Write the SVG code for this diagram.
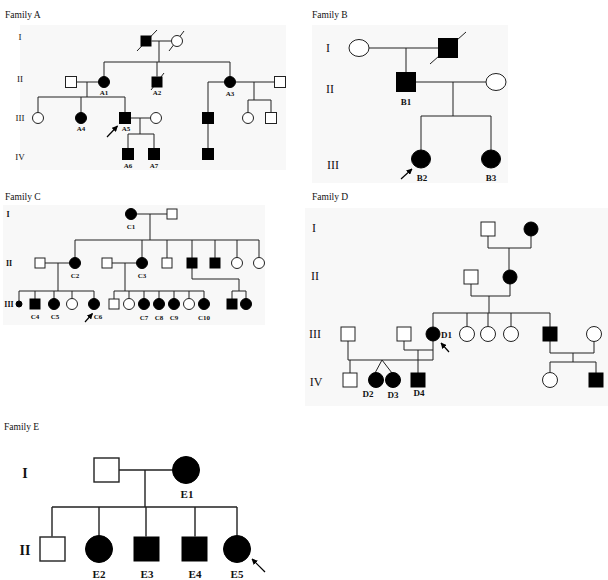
<svg xmlns="http://www.w3.org/2000/svg" width="608" height="580" viewBox="0 0 608 580">
<defs>
<style>
.l{stroke:#222;stroke-width:1;fill:none}
.le{stroke:#222;stroke-width:1.4;fill:none}
.o{fill:#fff;stroke:#222;stroke-width:1}
.oe{fill:#fff;stroke:#222;stroke-width:1.4}
.f{fill:#000;stroke:#000;stroke-width:1}
.fam{font-family:"Liberation Serif",serif;font-size:9.5px;fill:#111}
.g{font-family:"Liberation Serif",serif;fill:#111;text-anchor:middle}
.lb{font-family:"Liberation Serif",serif;font-weight:bold;fill:#111;text-anchor:middle}
.ar{stroke:#000;stroke-width:1.2;fill:none}
</style>
<marker id="ah" viewBox="0 0 10 10" refX="9" refY="5" markerWidth="5" markerHeight="5" orient="auto">
<path d="M0,0 L10,5 L0,10 z" fill="#000"/>
</marker>
</defs>
<rect width="608" height="580" fill="#fff"/>
<rect x="20" y="25" width="266" height="145" fill="#f8f8f8"/>
<rect x="312" y="25" width="196" height="158" fill="#f8f8f8"/>
<rect x="3" y="205" width="262" height="120" fill="#f8f8f8"/>
<rect x="305" y="208" width="303" height="198" fill="#f8f8f8"/>

<!-- Titles and generation labels -->
<g id="titles">
<text class="fam" x="5" y="18">Family A</text>
<text class="fam" x="312" y="18">Family B</text>
<text class="fam" x="5" y="200">Family C</text>
<text class="fam" x="312" y="200">Family D</text>
<text class="fam" x="4" y="430">Family E</text>
<g style="font-size:9px">
<text class="g" x="20" y="40">I</text>
<text class="g" x="20" y="82">II</text>
<text class="g" x="20" y="121">III</text>
<text class="g" x="20" y="160">IV</text>
</g>
<g style="font-size:12px">
<text class="g" x="328" y="52">I</text>
<text class="g" x="330" y="93">II</text>
<text class="g" x="333" y="169">III</text>
</g>
<g style="font-size:8px;font-weight:bold">
<text class="g" x="8" y="217">I</text>
<text class="g" x="9" y="266">II</text>
<text class="g" x="9" y="307">III</text>
</g>
<g style="font-size:12px">
<text class="g" x="314" y="232">I</text>
<text class="g" x="315" y="280">II</text>
<text class="g" x="315" y="338">III</text>
<text class="g" x="316" y="386">IV</text>
</g>
<g style="font-size:14px;font-weight:bold">
<text class="g" x="25" y="478">I</text>
<text class="g" x="25" y="555">II</text>
</g>
</g>

<!-- Connectors -->
<g id="connectors">
<!-- Family A -->
<path class="l" d="M151.5,41H171 M159,41V62 M104,62H230 M104,62V76.5 M157,62V76.5 M230,62V76.5"/>
<path class="l" d="M76.5,82H98.5 M87,82V97 M38,97H125 M38,97V112.5 M81,97V112.5 M125,97V112.5"/>
<path class="l" d="M235.5,82H274.5 M254,82V100 M248,100H271 M248,100V112.5 M271,100V112.5"/>
<path class="l" d="M224.5,82H208V112.5 M208,123.5V148.5"/>
<path class="l" d="M130.5,118H150.5 M140,118V134 M128,134H154 M128,134V148.5 M154,134V148.5"/>
<path class="l" d="M137,51L157,30 M169,51L184,31 M151,90L164,73"/>
<!-- Family B -->
<path class="l" d="M369,48H438.5 M406,48V72.5 M415.5,82H486 M453,82V116 M421,116H491 M421,116V150 M491,116V150"/>
<path class="l" d="M430,64L466,32"/>
<!-- Family C -->
<path class="l" d="M136.5,214H167 M150,214V240 M75,240H259 M75,240V257.5 M142,240V257.5 M167,240V258 M192,240V258 M215,240V258 M237,240V257.5 M259,240V257.5"/>
<path class="l" d="M45,263H69.5 M58,263V291 M19,291H94 M19,291V301 M35,291V299 M54,291V298.5 M72,291V298.5 M94,291V298.5"/>
<path class="l" d="M112,263H136.5 M125,263V291 M114,291H204 M114,291V299 M129,291V298.5 M144,291V298.5 M159,291V298.5 M174,291V298.5 M189,291V298.5 M204,291V298.5"/>
<path class="l" d="M192,268V279H239V291 M232,291H246 M232,291V299 M246,291V298.5"/>
<!-- Family D -->
<path class="l" d="M488,236V248H531V236 M509,248V270"/>
<path class="l" d="M471,284V296H510V284 M489,296V313"/>
<path class="l" d="M433,313H550 M433,313V327 M467,313V326.5 M488,313V326.5 M511,313V326.5 M550,313V327"/>
<path class="l" d="M550,341V353H594V341.5 M573,353V362 M550,362H596 M550,362V372.5 M596,362V373"/>
<path class="l" d="M348,341V360H433V341 M404,341V350H433 M418,350V373 M350,360V373 M375,373L382,360L392,373"/>
<!-- Family E -->
<path class="le" d="M118.5,470H172.5 M145,470V507 M52,507H237 M52,507V536.5 M99,507V535.5 M146,507V536.5 M195,507V536.5 M237,507V535.5"/>
<!-- Proband arrows -->
<path class="ar" d="M107,137L117.5,126" marker-end="url(#ah)"/>
<path class="ar" d="M401,179L412,169" marker-end="url(#ah)"/>
<path class="ar" d="M85,322L92.5,313.5" marker-end="url(#ah)"/>
<path class="ar" d="M449,352L441,343" marker-end="url(#ah)"/>
<path class="ar" d="M265,572L252,559" marker-end="url(#ah)"/>
</g>

<!-- Family A nodes -->
<g id="A-I-1"><rect class="f" x="141" y="36" width="10" height="10"/></g>
<g id="A-I-2"><circle class="o" cx="177" cy="41" r="5.5"/></g>
<g id="A-II-h1"><rect class="o" x="65.5" y="76.5" width="11" height="11"/></g>
<g id="A1"><circle class="f" cx="104" cy="82" r="5.5"/><text class="lb" x="104" y="95" style="font-size:7px">A1</text></g>
<g id="A2"><rect class="f" x="152" y="77" width="10" height="10"/><text class="lb" x="157" y="95" style="font-size:7px">A2</text></g>
<g id="A3"><circle class="f" cx="230" cy="82" r="5.5"/><text class="lb" x="230" y="96" style="font-size:7px">A3</text></g>
<g id="A-II-h3"><rect class="o" x="274.5" y="76.5" width="11" height="11"/></g>
<g id="A-III-1"><circle class="o" cx="38" cy="118" r="5.5"/></g>
<g id="A4"><circle class="f" cx="81" cy="118" r="5.5"/><text class="lb" x="81" y="131" style="font-size:7px">A4</text></g>
<g id="A5"><rect class="f" x="119.5" y="112.5" width="11" height="11"/><text class="lb" x="126" y="131" style="font-size:7px">A5</text></g>
<g id="A5-w"><circle class="o" cx="156" cy="118" r="5.5"/></g>
<g id="A-III-5"><rect class="f" x="202.5" y="112.5" width="11" height="11"/></g>
<g id="A-III-6"><circle class="o" cx="248" cy="118" r="5.5"/></g>
<g id="A-III-7"><rect class="o" x="265.5" y="112.5" width="11" height="11"/></g>
<g id="A6"><rect class="f" x="122.5" y="148.5" width="11" height="11"/><text class="lb" x="128" y="168" style="font-size:7px">A6</text></g>
<g id="A7"><rect class="f" x="148.5" y="148.5" width="11" height="11"/><text class="lb" x="154" y="168" style="font-size:7px">A7</text></g>
<g id="A-IV-3"><rect class="f" x="202.5" y="148.5" width="11" height="11"/></g>

<!-- Family B nodes -->
<g id="B-I-1"><ellipse class="o" cx="359" cy="48" rx="10" ry="8.5"/></g>
<g id="B-I-2"><rect class="f" x="438.5" y="38.5" width="19" height="19"/></g>
<g id="B1"><rect class="f" x="396.5" y="72.5" width="19" height="19"/><text class="lb" x="406" y="105" style="font-size:9px">B1</text></g>
<g id="B1-w"><ellipse class="o" cx="496" cy="82" rx="10" ry="8.5"/></g>
<g id="B2"><ellipse class="f" cx="421" cy="159" rx="9.5" ry="9"/><text class="lb" x="422" y="181" style="font-size:9px">B2</text></g>
<g id="B3"><ellipse class="f" cx="491" cy="159" rx="9.5" ry="9"/><text class="lb" x="491" y="181" style="font-size:9px">B3</text></g>

<!-- Family C nodes -->
<g id="C1"><circle class="f" cx="131" cy="214" r="5.5"/><text class="lb" x="131" y="229" style="font-size:7px">C1</text></g>
<g id="C1-h"><rect class="o" x="167" y="209" width="10" height="10"/></g>
<g id="C2-h"><rect class="o" x="35" y="258" width="10" height="10"/></g>
<g id="C2"><circle class="f" cx="75" cy="263" r="5.5"/><text class="lb" x="75" y="278" style="font-size:7px">C2</text></g>
<g id="C3-h"><rect class="o" x="102" y="258" width="10" height="10"/></g>
<g id="C3"><circle class="f" cx="142" cy="263" r="5.5"/><text class="lb" x="142" y="278" style="font-size:7px">C3</text></g>
<g id="C-II-4"><rect class="o" x="162" y="258" width="10" height="10"/></g>
<g id="C-II-5"><rect class="f" x="187" y="258" width="10" height="10"/></g>
<g id="C-II-6"><rect class="f" x="210" y="258" width="10" height="10"/></g>
<g id="C-II-7"><circle class="o" cx="237" cy="263" r="5.5"/></g>
<g id="C-II-8"><circle class="o" cx="259" cy="263" r="5.5"/></g>
<g id="C-III-1"><circle class="f" cx="19" cy="304" r="3"/></g>
<g id="C4"><rect class="f" x="30" y="299" width="10" height="10"/><text class="lb" x="35" y="319" style="font-size:7px">C4</text></g>
<g id="C5"><circle class="f" cx="54" cy="304" r="5.5"/><text class="lb" x="55" y="319" style="font-size:7px">C5</text></g>
<g id="C-III-4"><circle class="o" cx="72" cy="304" r="5.5"/></g>
<g id="C6"><circle class="f" cx="94" cy="304" r="5.5"/><text class="lb" x="98" y="319" style="font-size:7px">C6</text></g>
<g id="C-III-6"><rect class="o" x="109" y="299" width="10" height="10"/></g>
<g id="C-III-7"><circle class="o" cx="129" cy="304" r="5.5"/></g>
<g id="C7"><circle class="f" cx="144" cy="304" r="5.5"/><text class="lb" x="144" y="320" style="font-size:7px">C7</text></g>
<g id="C8"><circle class="f" cx="159" cy="304" r="5.5"/><text class="lb" x="159" y="320" style="font-size:7px">C8</text></g>
<g id="C9"><circle class="f" cx="174" cy="304" r="5.5"/><text class="lb" x="174" y="320" style="font-size:7px">C9</text></g>
<g id="C-III-11"><circle class="o" cx="189" cy="304" r="5.5"/></g>
<g id="C10"><circle class="f" cx="204" cy="304" r="5.5"/><text class="lb" x="204" y="320" style="font-size:7px">C10</text></g>
<g id="C-III-13"><rect class="f" x="227" y="299" width="10" height="10"/></g>
<g id="C-III-14"><circle class="f" cx="246" cy="304" r="5.5"/></g>

<!-- Family D nodes -->
<g id="D-I-1"><rect class="o" x="481" y="222" width="14" height="14"/></g>
<g id="D-I-2"><circle class="f" cx="531" cy="229" r="7"/></g>
<g id="D-II-1"><rect class="o" x="464" y="270" width="14" height="14"/></g>
<g id="D-II-2"><circle class="f" cx="510" cy="277" r="7"/></g>
<g id="D-III-h1"><rect class="o" x="341" y="327" width="14" height="14"/></g>
<g id="D-III-h2"><rect class="o" x="397" y="327" width="14" height="14"/></g>
<g id="D1"><circle class="f" cx="433" cy="334" r="7"/><text class="lb" x="441" y="338" style="font-size:9px;text-anchor:start">D1</text></g>
<g id="D-III-2"><circle class="o" cx="467" cy="334" r="7.5"/></g>
<g id="D-III-3"><circle class="o" cx="488" cy="334" r="7.5"/></g>
<g id="D-III-4"><circle class="o" cx="511" cy="334" r="7.5"/></g>
<g id="D-III-5"><rect class="f" x="543" y="327" width="14" height="14"/></g>
<g id="D-III-w"><circle class="o" cx="594" cy="334" r="7.5"/></g>
<g id="D-IV-1"><rect class="o" x="343" y="373" width="14" height="14"/></g>
<g id="D2"><circle class="f" cx="376" cy="380" r="7.5"/><text class="lb" x="368" y="397" style="font-size:9px">D2</text></g>
<g id="D3"><circle class="f" cx="393" cy="380" r="7.5"/><text class="lb" x="393" y="398" style="font-size:9px">D3</text></g>
<g id="D4"><rect class="f" x="411" y="373" width="14" height="14"/><text class="lb" x="419" y="396" style="font-size:9px">D4</text></g>
<g id="D-IV-5"><circle class="o" cx="550" cy="380" r="7.5"/></g>
<g id="D-IV-6"><rect class="f" x="589" y="373" width="14" height="14"/></g>

<!-- Family E nodes -->
<g id="E-I-1"><rect class="oe" x="94" y="458" width="25" height="24"/></g>
<g id="E1"><circle class="f" cx="186" cy="470" r="13.5"/><text class="lb" x="187" y="498" style="font-size:11px">E1</text></g>
<g id="E-II-1"><rect class="oe" x="40" y="537" width="25" height="24"/></g>
<g id="E2"><circle class="f" cx="99" cy="549" r="13.5"/><text class="lb" x="99" y="578" style="font-size:11px">E2</text></g>
<g id="E3"><rect class="f" x="134" y="537" width="25" height="24"/><text class="lb" x="147" y="578" style="font-size:11px">E3</text></g>
<g id="E4"><rect class="f" x="182" y="537" width="25" height="24"/><text class="lb" x="195" y="578" style="font-size:11px">E4</text></g>
<g id="E5"><circle class="f" cx="237" cy="549" r="13.5"/><text class="lb" x="237" y="578" style="font-size:11px">E5</text></g>
</svg>
